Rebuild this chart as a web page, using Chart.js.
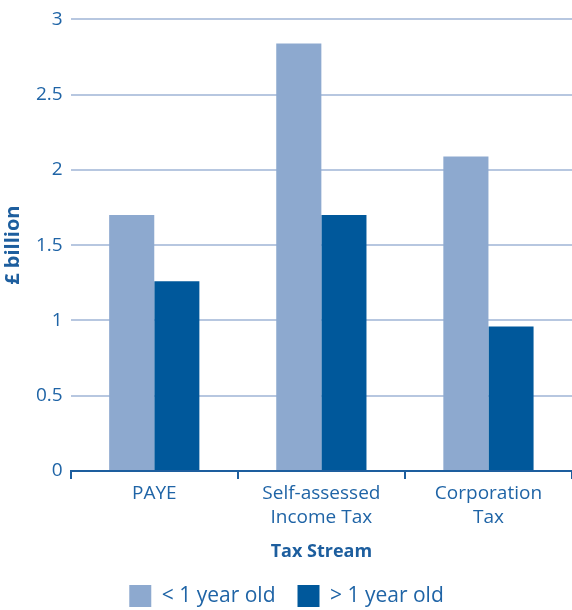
<!DOCTYPE html>
<html>
<head>
<meta charset="utf-8">
<script src="https://cdn.jsdelivr.net/npm/chart.js@4/dist/chart.umd.min.js"></script>
<style>
  html, body { margin: 0; padding: 0; background: #fff; }
  #wrap { width: 572px; height: 610px; position: relative; }
</style>
</head>
<body>
<div id="wrap"><canvas id="taxChart"></canvas></div>
<script>
// Tax streams and amounts (£ billion) by age of debt
const streams = ['PAYE', ['Self-assessed', 'Income Tax'], ['Corporation', 'Tax']];
const underOneYear = [1.70, 2.84, 2.09];
const overOneYear = [1.26, 1.70, 0.96];
const seriesNames = ['< 1 year old', '> 1 year old'];

const textBlue = '#1f64a6';
const axisBlue = '#1d5e9e';
const gridBlue = '#b7c7e0';
const lightBar = '#8da9cf';
const darkBar = '#00589b';
const font = 'Open Sans';

function initializeChart() {
    const ctx = document.getElementById('taxChart').getContext('2d');
    new Chart(ctx, {
        type: 'bar',
        data: {
            labels: streams,
            datasets: [{
                label: seriesNames[0],
                data: underOneYear,
                backgroundColor: lightBar,
                categoryPercentage: 0.54,
                barPercentage: 1.0
            }, {
                label: seriesNames[1],
                data: overOneYear,
                backgroundColor: darkBar,
                categoryPercentage: 0.54,
                barPercentage: 1.0
            }]
        },
        options: {
            responsive: true,
            maintainAspectRatio: false,
            animation: false,
            layout: { padding: { top: 14, right: 0, left: 1, bottom: -7 } },
            plugins: {
                tooltip: { enabled: false },
                legend: {
                    position: 'bottom',
                    labels: {
                        boxWidth: 22,
                        boxHeight: 22,
                        padding: 22,
                        color: textBlue,
                        font: { family: font, size: 21 }
                    }
                }
            },
            scales: {
                x: {
                    grid: {
                        drawOnChartArea: false,
                        drawTicks: true,
                        tickLength: 8,
                        color: axisBlue,
                        lineWidth: 2
                    },
                    border: { display: true, color: axisBlue, width: 2 },
                    ticks: {
                        color: textBlue,
                        font: { family: font, size: 19, lineHeight: 1.3 },
                        padding: 2,
                        maxRotation: 0
                    },
                    title: {
                        display: true,
                        text: 'Tax Stream',
                        color: axisBlue,
                        font: { family: font, size: 18, weight: 'bold' },
                        padding: { top: 9, bottom: 0 }
                    }
                },
                y: {
                    min: 0,
                    max: 3,
                    ticks: {
                        stepSize: 0.5,
                        color: textBlue,
                        font: { family: font, size: 19 },
                        padding: 8,
                        callback: (v) => String(v)
                    },
                    grid: {
                        drawTicks: false,
                        color: gridBlue,
                        lineWidth: 2
                    },
                    border: { display: false },
                    title: {
                        display: true,
                        text: '£ billion',
                        color: axisBlue,
                        font: { family: font, size: 20, weight: 'bold' },
                        padding: { top: 0, bottom: 3 }
                    }
                }
            }
        }
    });
}

document.addEventListener('DOMContentLoaded', initializeChart);
</script>
</body>
</html>
